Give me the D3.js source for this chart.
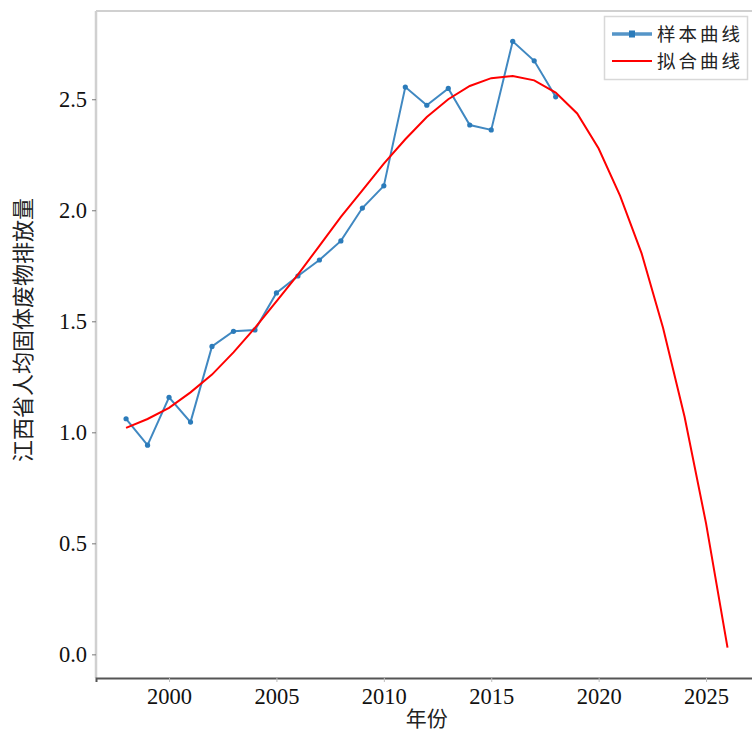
<!DOCTYPE html>
<html><head><meta charset="utf-8">
<script src="https://cdn.jsdelivr.net/npm/d3@7"></script>
<style>
body{margin:0;background:#fff;}
svg{display:block;}
</style></head>
<body>
<svg id="chart" width="752" height="732"></svg>
<script>
const sampleYears = [1998,1999,2000,2001,2002,2003,2004,2005,2006,2007,2008,2009,2010,2011,2012,2013,2014,2015,2016,2017,2018];
const sampleValues = [1.061,0.942,1.158,1.046,1.387,1.455,1.461,1.628,1.704,1.776,1.862,2.010,2.110,2.555,2.473,2.549,2.384,2.362,2.761,2.673,2.511];
const fitYears = [1998,1999,2000,2001,2002,2003,2004,2005,2006,2007,2008,2009,2010,2011,2012,2013,2014,2015,2016,2017,2018,2019,2020,2021,2022,2023,2024,2025,2026];
const fitValues = [1.02,1.06,1.11,1.18,1.26,1.36,1.47,1.59,1.71,1.84,1.97,2.09,2.21,2.32,2.42,2.50,2.56,2.595,2.605,2.585,2.53,2.436,2.278,2.065,1.806,1.47,1.07,0.59,0.03];
const xTicks = [2000,2005,2010,2015,2020,2025];
const yTicks = [0.0,0.5,1.0,1.5,2.0,2.5];
const legendLabels = ["样本曲线","拟合曲线"];

const svg = d3.select("#chart");
const L = 96, T = 11, B = 678, R = 757.6;
const x = d3.scaleLinear().domain([1996.6, 2027.4]).range([L, R]);
const y = d3.scaleLinear().domain([-0.1065, 2.8975]).range([B, T]);

const serif = "'Liberation Serif','Times New Roman',serif";
const cjk = "'Noto Sans CJK SC',sans-serif";

// spines
svg.append("line").attr("x1",L).attr("x2",R).attr("y1",T).attr("y2",T).attr("stroke","#d0d0d0").attr("stroke-width",2);
svg.append("line").attr("x1",L).attr("x2",L).attr("y1",T).attr("y2",B).attr("stroke","#d0d0d0").attr("stroke-width",2.5);

// axes
const xAxis = svg.append("g").attr("transform",`translate(0,${B})`)
  .call(d3.axisBottom(x).tickValues(xTicks).tickFormat(d3.format("d")).tickSize(4).tickPadding(6));
xAxis.select(".domain").attr("stroke","#555").attr("stroke-width",2);
xAxis.selectAll(".tick line").attr("stroke","#bbb");
xAxis.selectAll("text").attr("font-family",serif).attr("font-size",22.5).attr("fill","#111");

const yAxis = svg.append("g").attr("transform",`translate(${L},0)`)
  .call(d3.axisLeft(y).tickValues(yTicks).tickFormat(d3.format(".1f")).tickSize(4).tickPadding(5));
yAxis.select(".domain").remove();
yAxis.selectAll(".tick line").attr("stroke","#777");
yAxis.selectAll("text").attr("font-family",serif).attr("font-size",22.5).attr("fill","#111");

// labels
svg.append("text").attr("x",(L+R)/2).attr("y",726).attr("text-anchor","middle")
  .attr("font-family",cjk).attr("font-size",21).attr("fill","#222").text("年份");
svg.append("text").attr("transform","translate(31,330) rotate(-90)").attr("text-anchor","middle")
  .attr("font-family",cjk).attr("font-size",22).attr("fill","#222").text("江西省人均固体废物排放量");

// clip
svg.append("clipPath").attr("id","clip").append("rect").attr("x",L).attr("y",T).attr("width",R-L).attr("height",B-T);
const g = svg.append("g").attr("clip-path","url(#clip)");

const line = d3.line().x(d=>x(d[0])).y(d=>y(d[1]));
const blue = "#2b7bba";
g.append("path").datum(sampleYears.map((yr,i)=>[yr,sampleValues[i]]))
  .attr("d",line).attr("fill","none").attr("stroke",blue).attr("stroke-width",2).attr("stroke-opacity",0.9);
g.selectAll("circle.s").data(sampleYears.map((yr,i)=>[yr,sampleValues[i]])).enter().append("circle")
  .attr("cx",d=>x(d[0])).attr("cy",d=>y(d[1])).attr("r",2.6).attr("fill",blue);
g.append("path").datum(fitYears.map((yr,i)=>[yr,fitValues[i]]))
  .attr("d",line).attr("fill","none").attr("stroke","#ff0000").attr("stroke-width",2);

// legend
const lg = svg.append("g");
lg.append("rect").attr("x",604.5).attr("y",16.5).attr("width",143).attr("height",63)
  .attr("fill","#fff").attr("stroke","#d8d8d8").attr("stroke-width",1.5);
lg.append("line").attr("x1",612).attr("x2",652).attr("y1",34).attr("y2",34).attr("stroke",blue).attr("stroke-width",3.5).attr("stroke-opacity",0.8);
lg.append("rect").attr("x",629).attr("y",30.5).attr("width",6).attr("height",7).attr("fill",blue);
lg.append("line").attr("x1",612).attr("x2",652).attr("y1",61).attr("y2",61).attr("stroke","#ff0000").attr("stroke-width",2);
lg.selectAll("text.l").data(legendLabels).enter().append("text")
  .attr("x",657).attr("y",(d,i)=>41+i*27).attr("font-family",cjk).attr("font-size",18.5)
  .attr("letter-spacing",3).attr("fill","#222").text(d=>d);
</script>
</body></html>
